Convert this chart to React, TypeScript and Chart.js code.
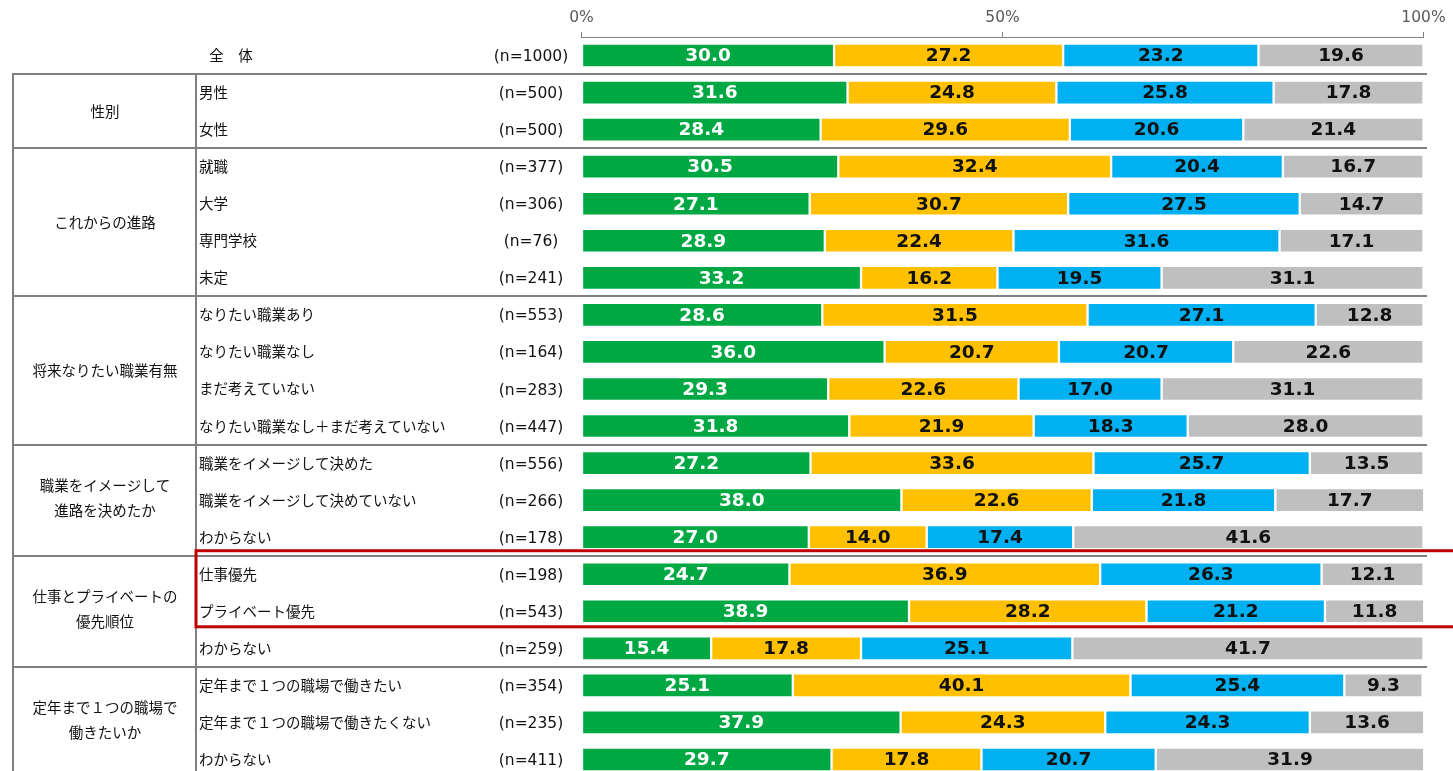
import { useEffect, useRef } from 'react';
import { Chart, registerables } from 'chart.js';

Chart.register(...registerables);

// ---------- data ----------
const categories = [
  '全　体',
  '男性', '女性',
  '就職', '大学', '専門学校', '未定',
  'なりたい職業あり', 'なりたい職業なし', 'まだ考えていない', 'なりたい職業なし＋まだ考えていない',
  '職業をイメージして決めた', '職業をイメージして決めていない', 'わからない',
  '仕事優先', 'プライベート優先', 'わからない',
  '定年まで１つの職場で働きたい', '定年まで１つの職場で働きたくない', 'わからない',
];

const nLabels = [
  '(n=1000)',
  '(n=500)', '(n=500)',
  '(n=377)', '(n=306)', '(n=76)', '(n=241)',
  '(n=553)', '(n=164)', '(n=283)', '(n=447)',
  '(n=556)', '(n=266)', '(n=178)',
  '(n=198)', '(n=543)', '(n=259)',
  '(n=354)', '(n=235)', '(n=411)',
];

const seriesGreen = [30.0, 31.6, 28.4, 30.5, 27.1, 28.9, 33.2, 28.6, 36.0, 29.3, 31.8, 27.2, 38.0, 27.0, 24.7, 38.9, 15.4, 25.1, 37.9, 29.7];
const seriesYellow = [27.2, 24.8, 29.6, 32.4, 30.7, 22.4, 16.2, 31.5, 20.7, 22.6, 21.9, 33.6, 22.6, 14.0, 36.9, 28.2, 17.8, 40.1, 24.3, 17.8];
const seriesBlue = [23.2, 25.8, 20.6, 20.4, 27.5, 31.6, 19.5, 27.1, 20.7, 17.0, 18.3, 25.7, 21.8, 17.4, 26.3, 21.2, 25.1, 25.4, 24.3, 20.7];
const seriesGray = [19.6, 17.8, 21.4, 16.7, 14.7, 17.1, 31.1, 12.8, 22.6, 31.1, 28.0, 13.5, 17.7, 41.6, 12.1, 11.8, 41.7, 9.3, 13.6, 31.9];

const groupLabels = [
  ['性別'],
  ['これからの進路'],
  ['将来なりたい職業有無'],
  ['職業をイメージして', '進路を決めたか'],
  ['仕事とプライベートの', '優先順位'],
  ['定年まで１つの職場で', '働きたいか'],
];
const groupStart = [1, 3, 7, 11, 14, 17];
const groupEnd = [2, 6, 10, 13, 16, 19];

const highlightStart = 14;
const highlightEnd = 15;

const xTicks = [0, 50, 100];

// ---------- styles ----------
const COLORS = ['#00A844', '#FFC000', '#00B0F0', '#BFBFBF'];
const LINE = '#808080';
const JP_FONT = '"Noto Sans CJK JP", "Noto Sans", sans-serif';
const NUM_FONT = '"DejaVu Sans", Verdana, sans-serif';

const labelPlugin = {
  id: 'valueLabels',
  afterDatasetsDraw(chart: any) {
    const ctx = chart.ctx;
    ctx.save();
    ctx.font = `bold 18.5px ${NUM_FONT}`;
    ctx.textAlign = 'center';
    ctx.textBaseline = 'middle';
    chart.data.datasets.forEach((ds: any, di: number) => {
      const meta = chart.getDatasetMeta(di);
      meta.data.forEach((el: any, i: number) => {
        const v = ds.data[i];
        const p = el.getProps(['x', 'y', 'base'], true);
        ctx.fillStyle = di === 0 ? '#ffffff' : '#111111';
        ctx.fillText(Number(v).toFixed(1), (p.x + p.base) / 2, p.y + 1);
      });
    });
    ctx.restore();
  },
};

const tablePlugin = {
  id: 'leftTable',
  afterDraw(chart: any) {
    const ctx = chart.ctx;
    const ys = chart.scales.y;
    const rowY = (i: number) => ys.getPixelForValue(i);
    const H = chart.height;
    const leftX = 13;
    const midX = 196;
    const rightX = 1427;

    ctx.save();
    // horizontal separators
    ctx.strokeStyle = LINE;
    ctx.lineWidth = 2;
    groupStart.forEach((s) => {
      const y = Math.round((rowY(s - 1) + rowY(s)) / 2);
      ctx.beginPath();
      ctx.moveTo(leftX - 1, y);
      ctx.lineTo(rightX, y);
      ctx.stroke();
    });
    // vertical lines
    const topY = Math.round((rowY(0) + rowY(1)) / 2);
    [leftX, midX].forEach((x) => {
      ctx.beginPath();
      ctx.moveTo(x, topY);
      ctx.lineTo(x, H);
      ctx.stroke();
    });

    // texts
    ctx.fillStyle = '#111111';
    ctx.textBaseline = 'middle';
    categories.forEach((c, i) => {
      const y = rowY(i);
      ctx.font = `14.5px ${JP_FONT}`;
      if (i === 0) {
        ctx.textAlign = 'center';
        ctx.fillText(c, 231, y);
      } else {
        ctx.textAlign = 'left';
        ctx.fillText(c, 199, y);
      }
      ctx.font = `15.5px ${NUM_FONT}`;
      ctx.textAlign = 'center';
      ctx.fillText(nLabels[i], 531, y + 1.5);
    });

    ctx.font = `14.5px ${JP_FONT}`;
    ctx.textAlign = 'center';
    groupLabels.forEach((lines, gi) => {
      const mid = (rowY(groupStart[gi]) + rowY(groupEnd[gi])) / 2 - (lines.length > 1 ? 2 : 0);
      const lh = 25;
      lines.forEach((t, li) => {
        ctx.fillText(t, 105, mid + (li - (lines.length - 1) / 2) * lh);
      });
    });

    // red highlight box
    ctx.strokeStyle = '#C00000';
    ctx.lineWidth = 3;
    const ry1 = rowY(highlightStart) - 23.5;
    const ry2 = rowY(highlightEnd) + 15.5;
    ctx.strokeRect(midX, ry1, 1300, ry2 - ry1);
    ctx.restore();
  },
};

export default function App() {
  const ref = useRef<HTMLCanvasElement | null>(null);

  useEffect(() => {
    if (!ref.current) return;
    const series = [seriesGreen, seriesYellow, seriesBlue, seriesGray];
    const chart = new Chart(ref.current, {
      type: 'bar',
      data: {
        labels: categories,
        datasets: series.map((d, i) => ({
          label: `s${i + 1}`,
          data: d,
          backgroundColor: COLORS[i],
          borderColor: '#ffffff',
          borderWidth: { left: 1.5, right: 1.5, top: 1, bottom: 1 },
          borderSkipped: false,
          barThickness: 23,
        })),
      },
      options: {
        indexAxis: 'y',
        animation: false,
        responsive: false,
        devicePixelRatio: 1,
        layout: { padding: { left: 581.5, right: 29.5, top: 0, bottom: 0 } },
        plugins: { legend: { display: false }, tooltip: { enabled: false } },
        scales: {
          x: {
            type: 'linear',
            position: 'top',
            stacked: true,
            min: 0,
            max: 100,
            afterBuildTicks: (s: any) => {
              s.ticks = xTicks.map((v) => ({ value: v }));
            },
            afterFit: (s: any) => {
              s.height = 37;
            },
            ticks: {
              callback: (v: any) => `${v}%`,
              color: '#595959',
              font: { family: NUM_FONT, size: 15.5 },
              padding: 5,
              maxRotation: 0,
              autoSkip: false,
            },
            grid: { drawOnChartArea: false, drawTicks: true, tickLength: 5, color: LINE },
            border: { display: true, color: LINE, width: 1 },
          },
          y: { type: 'category', stacked: true, display: false, offset: true },
        },
      } as any,
      plugins: [labelPlugin, tablePlugin],
    });
    return () => chart.destroy();
  }, []);

  return (
    <div style={{ position: 'fixed', left: 0, top: 0, width: 1453, height: 771, overflow: 'hidden', background: '#ffffff' }}>
      <canvas ref={ref} width={1453} height={778} style={{ display: 'block' }} />
    </div>
  );
}
